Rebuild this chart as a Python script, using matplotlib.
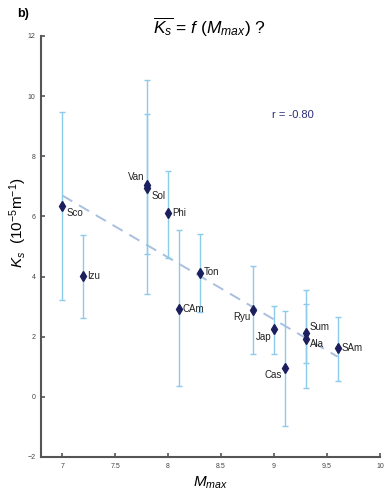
import numpy as np
import matplotlib
matplotlib.use("Agg")
import matplotlib.pyplot as plt

plt.rcParams['font.family'] = ['Liberation Sans', 'DejaVu Sans']
plt.rcParams['mathtext.fontset'] = 'custom'
plt.rcParams['mathtext.rm'] = 'Liberation Sans'
plt.rcParams['mathtext.it'] = 'Liberation Sans:italic'

# ====================== Data ======================
names = ['Sco', 'Izu', 'Van', 'Sol', 'Phi', 'CAm', 'Ton', 'Ryu', 'Jap', 'Cas', 'Sum', 'Ala', 'SAm']
m_max = [7.0, 7.2, 7.8, 7.8, 8.0, 8.1, 8.3, 8.8, 9.0, 9.1, 9.3, 9.3, 9.6]
ks = [6.35, 4.02, 7.05, 6.95, 6.10, 2.93, 4.12, 2.89, 2.26, 0.96, 2.13, 1.93, 1.63]
ks_low = [3.23, 2.63, 3.43, 4.75, 4.62, 0.35, 2.83, 1.43, 1.43, -0.96, 0.30, 1.13, 0.53]
ks_high = [9.48, 5.39, 10.54, 9.41, 7.52, 5.55, 5.42, 4.36, 3.03, 2.86, 3.56, 3.09, 2.66]
r_value = -0.80  # as printed on the chart

x_ticks = [7, 7.5, 8, 8.5, 9, 9.5, 10]
x_tick_labels = ['7', '7.5', '8', '8.5', '9', '9.5', '10']
y_ticks = [-2, 0, 2, 4, 6, 8, 10, 12]

# label offsets in points (dx, dy, ha)
label_pos = {
    'Sco': (3, -5, 'left'), 'Izu': (3, 0, 'left'), 'Van': (-2, 6, 'right'),
    'Sol': (3, -6, 'left'), 'Phi': (3, 0, 'left'), 'CAm': (3, 0, 'left'),
    'Ton': (3, 1, 'left'), 'Ryu': (-2, -5, 'right'), 'Jap': (-2, -6, 'right'),
    'Cas': (-2, -5, 'right'), 'Sum': (3, 4, 'left'), 'Ala': (3, -4, 'left'),
    'SAm': (3, 0, 'left'),
}

x = np.array(m_max)
y = np.array(ks)
yerr = [y - np.array(ks_low), np.array(ks_high) - y]

# ====================== Plot ======================
fig = plt.figure(figsize=(3.85, 4.95), dpi=100)
ax = fig.add_axes([0.1065, 0.0768, 0.8805, 0.8505])

ax.errorbar(x, y, yerr=yerr, fmt='none', ecolor='#8ccbe9', elinewidth=1.0,
            capsize=2.5, capthick=1.0, zorder=2)

# linear fit
slope, intercept = np.polyfit(x, y, 1)
xf = np.array([x.min(), x.max()])
ax.plot(xf, slope * xf + intercept, color='#a9bfe0', linewidth=1.4,
        dashes=(6, 4), zorder=1)

ax.plot(x, y, linestyle='none', marker='d', markersize=5,
        color='#1c1f5e', zorder=3)

for n, xi, yi in zip(names, x, y):
    dx, dy, ha = label_pos[n]
    ax.annotate(n, xy=(xi, yi), xytext=(dx, dy), textcoords='offset points',
                ha=ha, va='center', fontsize=7, color='#222222')

ax.text(8.98, 9.38, f'r = {r_value:.2f}', fontsize=8, color='#2b2d7a',
        ha='left', va='center')

ax.set_xlim(6.8, 10)
ax.set_ylim(-2, 12)
ax.set_xticks(x_ticks)
ax.set_xticklabels(x_tick_labels)
ax.set_yticks(y_ticks)

for s in ['top', 'right']:
    ax.spines[s].set_visible(False)
for s in ['left', 'bottom']:
    ax.spines[s].set_color('#555555')
    ax.spines[s].set_linewidth(1.5)
ax.tick_params(direction='in', length=3, width=1.2, color='#555555',
               labelsize=5, labelcolor='#444444', pad=4)

ax.set_xlabel(r'$M_{max}$', fontsize=11, labelpad=4)
fig.text(0.046, 0.55, r'$K_s$  (10$^{-5}$m$^{-1}$)', fontsize=11,
         rotation=90, ha='center', va='center')

fig.text(0.545, 0.945, r'$\overline{K_s}$ = $f$ ($M_{max}$) ?', fontsize=12.5,
         ha='center', va='center')
fig.text(0.045, 0.972, 'b)', fontsize=9, fontweight='bold', ha='left', va='center')

fig.savefig('out.png', dpi=100)
